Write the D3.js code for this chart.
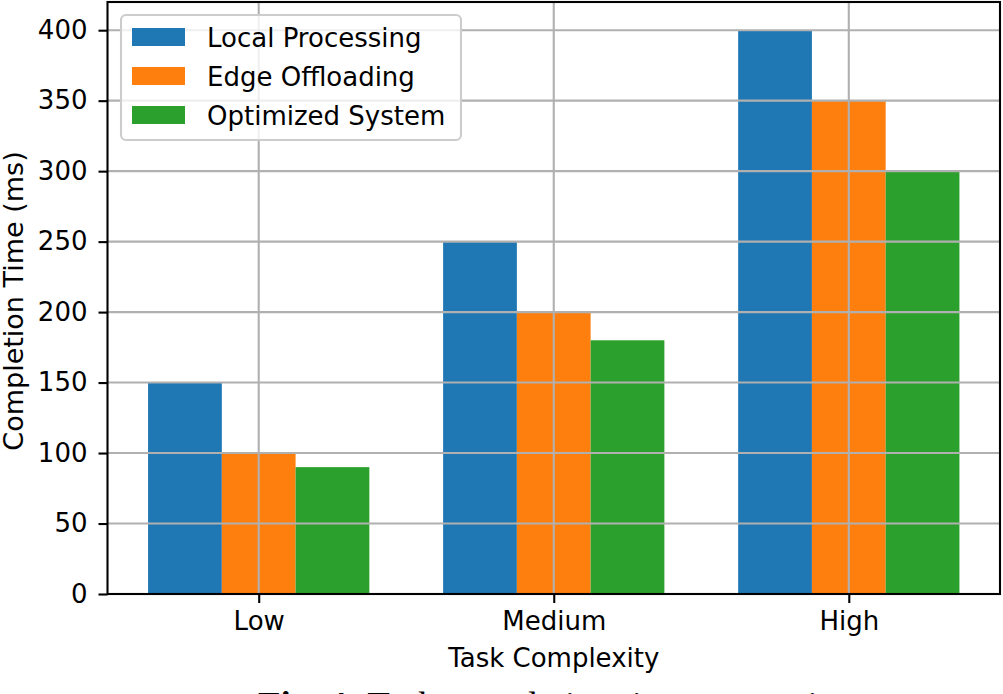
<!DOCTYPE html>
<html><head><meta charset="utf-8">
<script src="https://cdn.jsdelivr.net/npm/d3@7"></script>
<style>html,body{margin:0;padding:0;background:#fff;overflow:hidden}</style>
</head><body>
<svg id="c" width="1003" height="694"></svg>
<script>
const categories = ["Low", "Medium", "High"];
const seriesNames = ["Local Processing", "Edge Offloading", "Optimized System"];
const localProcessing = [150, 250, 400];
const edgeOffloading = [100, 200, 350];
const optimizedSystem = [90, 180, 300];
const yTicks = [0, 50, 100, 150, 200, 250, 300, 350, 400];
const colors = ["#1f77b4", "#ff7f0e", "#2ca02c"];
const series = [localProcessing, edgeOffloading, optimizedSystem];

const svg = d3.select("#c");
const L = 107.5, R = 1000, T = 2, B = 594;
const font = "DejaVu Sans, sans-serif";
const FS = 26, LW = 2.1;

const x = d3.scaleLinear().domain([-0.5125, 2.5125]).range([L, R]);
const y = d3.scaleLinear().domain([0, 420]).range([B, T]);
const bw = 0.25;

// bars
series.forEach((vals, si) => {
  svg.append("g").selectAll("rect").data(vals).join("rect")
    .attr("x", (d, i) => x(i + (si - 1) * bw - bw / 2))
    .attr("width", (d, i) => x(i + (si - 1) * bw + bw / 2) - x(i + (si - 1) * bw - bw / 2))
    .attr("y", d => y(d))
    .attr("height", d => y(0) - y(d))
    .attr("fill", colors[si]);
});

// grid on top
const grid = svg.append("g").attr("stroke", "#b0b0b0").attr("stroke-width", LW);
yTicks.forEach(t => grid.append("line").attr("x1", L).attr("x2", R).attr("y1", y(t)).attr("y2", y(t)));
categories.forEach((c, i) => grid.append("line").attr("x1", x(i)).attr("x2", x(i)).attr("y1", T).attr("y2", B));

// axes
const yAxis = d3.axisLeft(y).tickValues(yTicks).tickSize(9).tickPadding(11);
const gy = svg.append("g").attr("transform", `translate(${L},0)`).call(yAxis);
gy.select(".domain").remove();
gy.selectAll("line").attr("stroke", "#000").attr("stroke-width", LW);
gy.selectAll("text").attr("font-family", font).attr("font-size", FS).attr("fill", "#000");

const xb = d3.scaleOrdinal().domain(categories).range(categories.map((c, i) => x(i)));
const xAxis = d3.axisBottom(xb).tickSize(9).tickPadding(9);
const gx = svg.append("g").attr("transform", `translate(0,${B})`).call(xAxis);
gx.select(".domain").remove();
gx.selectAll("line").attr("stroke", "#000").attr("stroke-width", LW);
gx.selectAll("text").attr("font-family", font).attr("font-size", FS).attr("fill", "#000");

// frame
svg.append("rect").attr("x", L).attr("y", T).attr("width", R - L).attr("height", B - T)
  .attr("fill", "none").attr("stroke", "#000").attr("stroke-width", LW);

// labels
svg.append("text").attr("x", (L + R) / 2).attr("y", 667).attr("text-anchor", "middle")
  .attr("font-family", font).attr("font-size", FS).text("Task Complexity");
svg.append("text").attr("transform", `translate(23,301) rotate(-90)`).attr("text-anchor", "middle")
  .attr("font-family", font).attr("font-size", 27).text("Completion Time (ms)");

// legend
const lg = svg.append("g");
lg.append("rect").attr("x", 121).attr("y", 15).attr("width", 340).attr("height", 125).attr("rx", 5)
  .attr("fill", "#fff").attr("fill-opacity", 0.8).attr("stroke", "#cccccc").attr("stroke-width", LW);
seriesNames.forEach((n, i) => {
  const cy = 37 + i * 39;
  lg.append("rect").attr("x", 132).attr("y", cy - 9).attr("width", 53).attr("height", 18).attr("fill", colors[i]);
  lg.append("text").attr("x", 207).attr("y", cy + 9.5).attr("font-family", font).attr("font-size", FS).text(n);
});

// caption (clipped at bottom, as in the reference)
const cap = svg.append("text").attr("x", 258).attr("y", 718).attr("font-family", "Liberation Serif, serif").attr("font-size", 37);
cap.append("tspan").attr("font-weight", "bold").text("Fig. 4:");
cap.append("tspan").text(" Task completion time comparison");
</script>
</body></html>
